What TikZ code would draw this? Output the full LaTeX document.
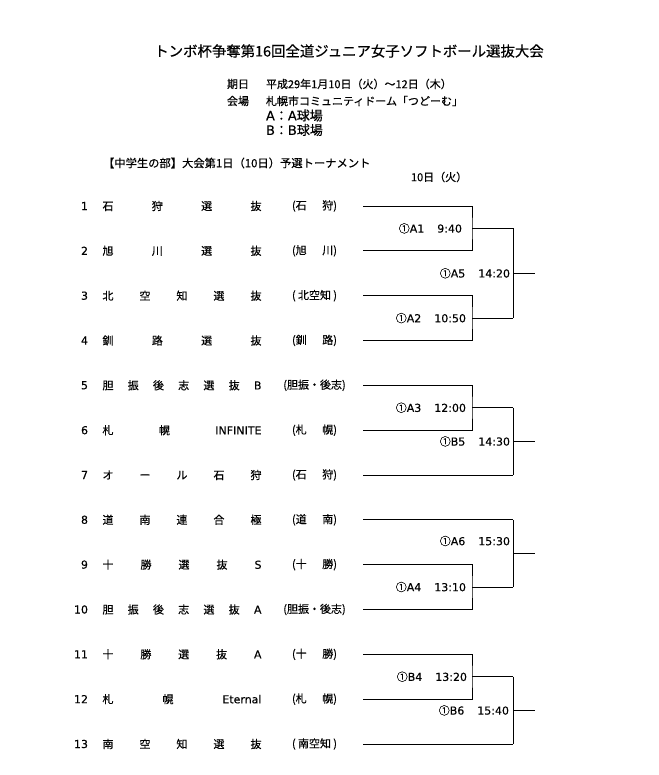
\documentclass[tikz,border=0pt]{standalone}
\usepackage{fontspec}
\setmainfont{Noto Sans CJK JP}[FakeBold=0.4]
\newfontfamily\jp{Noto Sans CJK JP}[FakeBold=0.3]
\newfontfamily\lat{DejaVu Sans}[FakeBold=0.2]
\newcommand\tm[1]{\hbox to 159pt{#1}}
\newcommand\prt[1]{\hbox to 45pt{#1}}
\newcommand\mk{{\jp ①}}
\begin{document}
\begin{tikzpicture}[x=1pt,y=-1pt]
\tikzset{
  base/.style={inner sep=0pt, outer sep=0pt, font=\fontsize{11}{13}\selectfont},
  numtxt/.style={base, anchor=east, font=\lat\fontsize{11}{13}\selectfont},
  teamtxt/.style={base, anchor=west},
  preftxt/.style={base},
  lbltxt/.style={base, anchor=east, font=\lat\fontsize{11}{13}\selectfont},
  ln/.style={line width=0.8pt, black}
}
\fill[white] (0,0) rectangle (658,775);
\useasboundingbox (0,0) rectangle (658,775);

% title and header
\node[base, font=\fontsize{14.4}{16}\selectfont] (title) at (349,51) {トンボ杯争奪第16回全道ジュニア女子ソフトボール選抜大会};
\node[base, anchor=west] (k1) at (227,84) {期日};
\node[base, anchor=west] (k1v) at (266,84) {平成29年1月10日（火）～12日（木）};
\node[base, anchor=west] (k2) at (227,101) {会場};
\node[base, anchor=west] (k2v) at (266,101) {札幌市コミュニティドーム「つどーむ」};
\node[base, anchor=west, font=\fontsize{13}{14}\selectfont] (va) at (266,115.5) {{\lat A}：{\lat A}球場};
\node[base, anchor=west, font=\fontsize{13}{14}\selectfont] (vb) at (266,130) {{\lat B}：{\lat B}球場};
\node[base, anchor=west, font=\fontsize{11.3}{13}\selectfont] (sub) at (103,163) {【中学生の部】大会第1日（10日）予選トーナメント};
\node[base, anchor=west] (day) at (411,177) {10日（火）};

% teams
\node[numtxt] (n1) at (88,206.0) {1};
\node[teamtxt] (t1) at (102.5,206.0) {\tm{石\hfill 狩\hfill 選\hfill 抜}};
\node[preftxt] (p1) at (314.5,206.0) {\prt{(石\hfill 狩)}};
\node[numtxt] (n2) at (88,250.8) {2};
\node[teamtxt] (t2) at (102.5,250.8) {\tm{旭\hfill 川\hfill 選\hfill 抜}};
\node[preftxt] (p2) at (314.5,250.8) {\prt{(旭\hfill 川)}};
\node[numtxt] (n3) at (88,295.7) {3};
\node[teamtxt] (t3) at (102.5,295.7) {\tm{北\hfill 空\hfill 知\hfill 選\hfill 抜}};
\node[preftxt] (p3) at (314.5,295.7) {\prt{(\hss 北空知\hss)}};
\node[numtxt] (n4) at (88,340.5) {4};
\node[teamtxt] (t4) at (102.5,340.5) {\tm{釧\hfill 路\hfill 選\hfill 抜}};
\node[preftxt] (p4) at (314.5,340.5) {\prt{(釧\hfill 路)}};
\node[numtxt] (n5) at (88,385.3) {5};
\node[teamtxt] (t5) at (102.5,385.3) {\tm{胆\hfill 振\hfill 後\hfill 志\hfill 選\hfill 抜\hfill {\lat B}}};
\node[preftxt] (p5) at (314.5,385.3) {(胆振・後志)};
\node[numtxt] (n6) at (88,430.2) {6};
\node[teamtxt] (t6) at (102.5,430.2) {\tm{札\hfill 幌\hfill {\lat INFINITE}}};
\node[preftxt] (p6) at (314.5,430.2) {\prt{(札\hfill 幌)}};
\node[numtxt] (n7) at (88,475.0) {7};
\node[teamtxt] (t7) at (102.5,475.0) {\tm{オ\hfill ー\hfill ル\hfill 石\hfill 狩}};
\node[preftxt] (p7) at (314.5,475.0) {\prt{(石\hfill 狩)}};
\node[numtxt] (n8) at (88,519.8) {8};
\node[teamtxt] (t8) at (102.5,519.8) {\tm{道\hfill 南\hfill 連\hfill 合\hfill 極}};
\node[preftxt] (p8) at (314.5,519.8) {\prt{(道\hfill 南)}};
\node[numtxt] (n9) at (88,564.6) {9};
\node[teamtxt] (t9) at (102.5,564.6) {\tm{十\hfill 勝\hfill 選\hfill 抜\hfill {\lat S}}};
\node[preftxt] (p9) at (314.5,564.6) {\prt{(十\hfill 勝)}};
\node[numtxt] (n10) at (88,609.5) {10};
\node[teamtxt] (t10) at (102.5,609.5) {\tm{胆\hfill 振\hfill 後\hfill 志\hfill 選\hfill 抜\hfill {\lat A}}};
\node[preftxt] (p10) at (314.5,609.5) {(胆振・後志)};
\node[numtxt] (n11) at (88,654.3) {11};
\node[teamtxt] (t11) at (102.5,654.3) {\tm{十\hfill 勝\hfill 選\hfill 抜\hfill {\lat A}}};
\node[preftxt] (p11) at (314.5,654.3) {\prt{(十\hfill 勝)}};
\node[numtxt] (n12) at (88,699.1) {12};
\node[teamtxt] (t12) at (102.5,699.1) {\tm{札\hfill 幌\hfill {\lat Eternal}}};
\node[preftxt] (p12) at (314.5,699.1) {\prt{(札\hfill 幌)}};
\node[numtxt] (n13) at (88,744.0) {13};
\node[teamtxt] (t13) at (102.5,744.0) {\tm{南\hfill 空\hfill 知\hfill 選\hfill 抜}};
\node[preftxt] (p13) at (314.5,744.0) {\prt{(\hss 南空知\hss)}};

% line start points
\coordinate (s1) at (363,206.0);
\coordinate (s2) at (363,250.8);
\coordinate (s3) at (363,295.7);
\coordinate (s4) at (363,340.5);
\coordinate (s5) at (363,385.3);
\coordinate (s6) at (363,430.2);
\coordinate (s7) at (363,475.0);
\coordinate (s8) at (363,519.8);
\coordinate (s9) at (363,564.6);
\coordinate (s10) at (363,609.5);
\coordinate (s11) at (363,654.3);
\coordinate (s12) at (363,699.1);
\coordinate (s13) at (363,744.0);

% first round junctions
\coordinate (mA1) at (472,228.4);
\coordinate (mA2) at (472,318.1);
\coordinate (mA3) at (472,407.7);
\coordinate (mA4) at (472,587.0);
\coordinate (mB4) at (472,676.7);
% second round entries
\coordinate (eA1) at (513,228.4);
\coordinate (eA2) at (513,318.1);
\coordinate (eA3) at (513,407.7);
\coordinate (e7) at (513,475.0);
\coordinate (e8) at (513,519.8);
\coordinate (eA4) at (513,587.0);
\coordinate (eB4) at (513,676.7);
\coordinate (e13) at (513,744.0);
% second round junctions and outputs
\coordinate (mA5) at (513,273.3);
\coordinate (oA5) at (535,273.3);
\coordinate (mB5) at (513,441.4);
\coordinate (oB5) at (535,441.4);
\coordinate (mA6) at (513,553.4);
\coordinate (oA6) at (535,553.4);
\coordinate (mB6) at (513,710.4);
\coordinate (oB6) at (535,710.4);

% first round brackets
\draw[ln] (s1) -| (mA1) |- (s2);
\draw[ln] (s3) -| (mA2) |- (s4);
\draw[ln] (s5) -| (mA3) |- (s6);
\draw[ln] (s9) -| (mA4) |- (s10);
\draw[ln] (s11) -| (mB4) |- (s12);
\draw[ln] (mA1) -- (eA1);
\draw[ln] (mA2) -- (eA2);
\draw[ln] (mA3) -- (eA3);
\draw[ln] (mA4) -- (eA4);
\draw[ln] (mB4) -- (eB4);
\draw[ln] (s7) -- (e7);
\draw[ln] (s8) -- (e8);
\draw[ln] (s13) -- (e13);
% second round brackets
\draw[ln] (eA1) -- (eA2);
\draw[ln] (eA3) -- (e7);
\draw[ln] (e8) -- (eA4);
\draw[ln] (eB4) -- (e13);
\draw[ln] (mA5) -- (oA5);
\draw[ln] (mB5) -- (oB5);
\draw[ln] (mA6) -- (oA6);
\draw[ln] (mB6) -- (oB6);

% match labels
\node[lbltxt] (lA1) at (462,228.4) {\mk A1\hspace{13pt}9:40};
\node[lbltxt] (lA2) at (466,318.1) {\mk A2\hspace{13pt}10:50};
\node[lbltxt] (lA3) at (466,407.7) {\mk A3\hspace{13pt}12:00};
\node[lbltxt] (lA4) at (466,587.0) {\mk A4\hspace{13pt}13:10};
\node[lbltxt] (lB4) at (467,676.7) {\mk B4\hspace{13pt}13:20};
\node[lbltxt] (lA5) at (510,273.3) {\mk A5\hspace{13pt}14:20};
\node[lbltxt] (lB5) at (510,441.4) {\mk B5\hspace{13pt}14:30};
\node[lbltxt] (lA6) at (510,541.0) {\mk A6\hspace{13pt}15:30};
\node[lbltxt] (lB6) at (509,710.4) {\mk B6\hspace{13pt}15:40};
\end{tikzpicture}
\end{document}
